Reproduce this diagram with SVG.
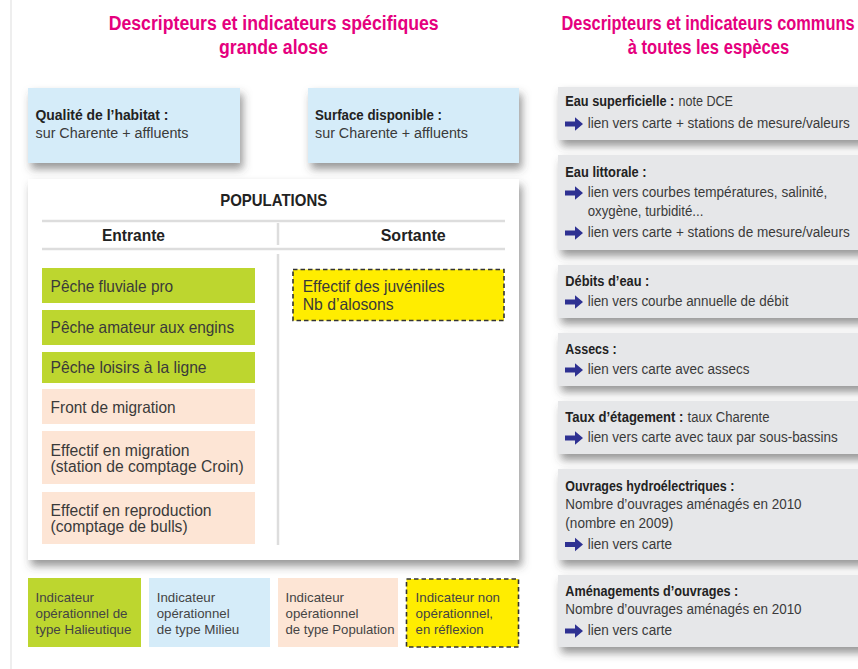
<svg xmlns="http://www.w3.org/2000/svg" xmlns:xlink="http://www.w3.org/1999/xlink" width="858" height="669" viewBox="0 0 858 669">
<defs>
<filter id="sh" x="-10%" y="-20%" width="125%" height="150%">
<feDropShadow dx="3" dy="6" stdDeviation="4" flood-color="#444" flood-opacity="0.55"/>
</filter>
<path id="arr" d="M0,-2.6 H10 V-6.8 L18,0 L10,6.8 V2.6 H0 Z" fill="#2e3192"/>
</defs>
<style>
text{font-family:"Liberation Sans",Arial,sans-serif;fill:#3a3a3a}
.title{font-size:20px;font-weight:bold;fill:#e5007e;text-anchor:middle}
.b{font-weight:bold;fill:#222}
.s14{font-size:14px}
.pop{font-size:16.5px}
.pop2{font-size:16px}
.hd{font-size:16.5px;font-weight:bold;fill:#222;text-anchor:middle}
.leg{font-size:13.5px;fill:#444}
.blue{fill:#d5ecf9}
.green{fill:#bdd62f}
.peach{fill:#fde5d5}
.yellow{fill:#ffed00;stroke:#333;stroke-width:1.6;stroke-dasharray:4.5 3}
.gray{fill:#e6e7e9}
.sep{stroke:#dddddd;stroke-width:2.5;fill:none}
</style>
<rect width="858" height="669" fill="#ffffff"/>
<line x1="11" y1="0" x2="11" y2="669" stroke="#eeeeee" stroke-width="2"/>

<g id="title-left">
<text class="title" x="273.7" y="30" textLength="330" lengthAdjust="spacingAndGlyphs">Descripteurs et indicateurs spécifiques</text>
<text class="title" x="273.5" y="54" textLength="109" lengthAdjust="spacingAndGlyphs">grande alose</text>
</g>
<g id="title-right">
<text class="title" x="708" y="30" textLength="293" lengthAdjust="spacingAndGlyphs">Descripteurs et indicateurs communs</text>
<text class="title" x="708.5" y="54" textLength="161.5" lengthAdjust="spacingAndGlyphs">à toutes les espèces</text>
</g>

<g id="qualite-habitat">
<rect class="blue" x="28" y="88" width="212" height="75" filter="url(#sh)"/>
<text class="s14 b" x="35.5" y="120" textLength="133" lengthAdjust="spacingAndGlyphs">Qualité de l’habitat :</text>
<text class="s14" x="35.5" y="138" textLength="153" lengthAdjust="spacingAndGlyphs">sur Charente + affluents</text>
</g>
<g id="surface-disponible">
<rect class="blue" x="308" y="88" width="211" height="75" filter="url(#sh)"/>
<text class="s14 b" x="315" y="120" textLength="127" lengthAdjust="spacingAndGlyphs">Surface disponible :</text>
<text class="s14" x="315" y="138" textLength="153" lengthAdjust="spacingAndGlyphs">sur Charente + affluents</text>
</g>

<g id="populations">
<rect x="28" y="179" width="491" height="381" fill="#ffffff" filter="url(#sh)"/>
<text class="hd" x="273.7" y="206" textLength="107" lengthAdjust="spacingAndGlyphs">POPULATIONS</text>
<line class="sep" x1="42" y1="221" x2="505" y2="221"/>
<line class="sep" x1="278" y1="223" x2="278" y2="245"/>
<line class="sep" x1="42" y1="249" x2="505" y2="249"/>
<line class="sep" x1="278" y1="254" x2="278" y2="545"/>
<text class="hd" x="133.5" y="241" textLength="63" lengthAdjust="spacingAndGlyphs">Entrante</text>
<text class="hd" x="413.2" y="241" textLength="65" lengthAdjust="spacingAndGlyphs">Sortante</text>
</g>

<g id="peche-fluviale">
<rect class="green" x="42" y="268" width="213" height="35"/>
<text class="pop" x="50.6" y="292" textLength="122.6" lengthAdjust="spacingAndGlyphs">Pêche fluviale pro</text>
</g>
<g id="peche-amateur">
<rect class="green" x="42" y="310" width="213" height="35"/>
<text class="pop" x="50.6" y="333" textLength="183.5" lengthAdjust="spacingAndGlyphs">Pêche amateur aux engins</text>
</g>
<g id="peche-loisirs">
<rect class="green" x="42" y="352" width="213" height="31"/>
<text class="pop" x="50.6" y="373" textLength="156" lengthAdjust="spacingAndGlyphs">Pêche loisirs à la ligne</text>
</g>
<g id="front-migration">
<rect class="peach" x="42" y="389" width="213" height="35"/>
<text class="pop" x="50.6" y="413" textLength="125" lengthAdjust="spacingAndGlyphs">Front de migration</text>
</g>
<g id="effectif-migration">
<rect class="peach" x="42" y="431" width="213" height="53"/>
<text class="pop2" x="50.6" y="455.5" textLength="139" lengthAdjust="spacingAndGlyphs">Effectif en migration</text>
<text class="pop2" x="50.6" y="472" textLength="193" lengthAdjust="spacingAndGlyphs">(station de comptage Croin)</text>
</g>
<g id="effectif-reproduction">
<rect class="peach" x="42" y="492" width="213" height="52"/>
<text class="pop2" x="50.6" y="516" textLength="161" lengthAdjust="spacingAndGlyphs">Effectif en reproduction</text>
<text class="pop2" x="50.6" y="532" textLength="137" lengthAdjust="spacingAndGlyphs">(comptage de bulls)</text>
</g>
<g id="effectif-juveniles">
<rect class="yellow" x="293" y="269.5" width="211" height="51"/>
<text class="pop" x="302.7" y="292" textLength="142" lengthAdjust="spacingAndGlyphs">Effectif des juvéniles</text>
<text class="pop" x="302.7" y="310" textLength="91" lengthAdjust="spacingAndGlyphs">Nb d’alosons</text>
</g>

<g id="legende-halieutique">
<rect class="green" x="28" y="578" width="113" height="69"/>
<text class="leg" x="35.5" y="601.5" textLength="58.5" lengthAdjust="spacingAndGlyphs">Indicateur</text>
<text class="leg" x="35.5" y="617.5" textLength="92" lengthAdjust="spacingAndGlyphs">opérationnel de</text>
<text class="leg" x="35.5" y="633.5" textLength="96" lengthAdjust="spacingAndGlyphs">type Halieutique</text>
</g>
<g id="legende-milieu">
<rect class="blue" x="149" y="578" width="121" height="69"/>
<text class="leg" x="156.7" y="601.5" textLength="58.5" lengthAdjust="spacingAndGlyphs">Indicateur</text>
<text class="leg" x="156.7" y="617.5" textLength="73" lengthAdjust="spacingAndGlyphs">opérationnel</text>
<text class="leg" x="156.7" y="633.5" textLength="82.6" lengthAdjust="spacingAndGlyphs">de type Milieu</text>
</g>
<g id="legende-population">
<rect class="peach" x="278" y="578" width="120" height="69"/>
<text class="leg" x="285.5" y="601.5" textLength="58.5" lengthAdjust="spacingAndGlyphs">Indicateur</text>
<text class="leg" x="285.5" y="617.5" textLength="73" lengthAdjust="spacingAndGlyphs">opérationnel</text>
<text class="leg" x="285.5" y="633.5" textLength="109" lengthAdjust="spacingAndGlyphs">de type Population</text>
</g>
<g id="legende-reflexion">
<rect class="yellow" x="406.5" y="579" width="112" height="68"/>
<text class="leg" x="415.6" y="601.5" textLength="84.4" lengthAdjust="spacingAndGlyphs">Indicateur non</text>
<text class="leg" x="415.6" y="617.5" textLength="77.5" lengthAdjust="spacingAndGlyphs">opérationnel,</text>
<text class="leg" x="415.6" y="633.5" textLength="68" lengthAdjust="spacingAndGlyphs">en réflexion</text>
</g>

<g id="eau-superficielle">
<rect class="gray" x="558" y="87" width="310" height="53" filter="url(#sh)"/>
<text class="s14 b" x="565.3" y="106" textLength="109" lengthAdjust="spacingAndGlyphs">Eau superficielle :</text>
<text class="s14" x="678.5" y="106" textLength="54.5" lengthAdjust="spacingAndGlyphs">note DCE</text>
<use xlink:href="#arr" x="565" y="124"/>
<text class="s14" x="587.7" y="128" textLength="262" lengthAdjust="spacingAndGlyphs">lien vers carte + stations de mesure/valeurs</text>
</g>
<g id="eau-littorale">
<rect class="gray" x="558" y="155" width="310" height="95" filter="url(#sh)"/>
<text class="s14 b" x="565.3" y="177" textLength="81.3" lengthAdjust="spacingAndGlyphs">Eau littorale :</text>
<use xlink:href="#arr" x="565" y="193"/>
<text class="s14" x="587.7" y="197" textLength="239.7" lengthAdjust="spacingAndGlyphs">lien vers courbes températures, salinité,</text>
<text class="s14" x="587.7" y="216" textLength="115.7" lengthAdjust="spacingAndGlyphs">oxygène, turbidité...</text>
<use xlink:href="#arr" x="565" y="233"/>
<text class="s14" x="587.7" y="237" textLength="262" lengthAdjust="spacingAndGlyphs">lien vers carte + stations de mesure/valeurs</text>
</g>
<g id="debits-eau">
<rect class="gray" x="558" y="265" width="310" height="53" filter="url(#sh)"/>
<text class="s14 b" x="565.3" y="286" textLength="84" lengthAdjust="spacingAndGlyphs">Débits d’eau :</text>
<use xlink:href="#arr" x="565" y="302"/>
<text class="s14" x="587.7" y="306" textLength="200.7" lengthAdjust="spacingAndGlyphs">lien vers courbe annuelle de débit</text>
</g>
<g id="assecs">
<rect class="gray" x="558" y="333" width="310" height="53" filter="url(#sh)"/>
<text class="s14 b" x="565.3" y="353.5" textLength="51.3" lengthAdjust="spacingAndGlyphs">Assecs :</text>
<use xlink:href="#arr" x="565" y="370"/>
<text class="s14" x="587.7" y="374" textLength="161.7" lengthAdjust="spacingAndGlyphs">lien vers carte avec assecs</text>
</g>
<g id="taux-etagement">
<rect class="gray" x="558" y="401" width="310" height="53" filter="url(#sh)"/>
<text class="s14 b" x="565.3" y="421.5" textLength="118" lengthAdjust="spacingAndGlyphs">Taux d’étagement :</text>
<text class="s14" x="687.5" y="421.5" textLength="82" lengthAdjust="spacingAndGlyphs">taux Charente</text>
<use xlink:href="#arr" x="565" y="438"/>
<text class="s14" x="587.7" y="442" textLength="250" lengthAdjust="spacingAndGlyphs">lien vers carte avec taux par sous-bassins</text>
</g>
<g id="ouvrages-hydroelectriques">
<rect class="gray" x="558" y="469" width="310" height="91" filter="url(#sh)"/>
<text class="s14 b" x="565.3" y="490.5" textLength="169" lengthAdjust="spacingAndGlyphs">Ouvrages hydroélectriques :</text>
<text class="s14" x="565.3" y="509" textLength="236.3" lengthAdjust="spacingAndGlyphs">Nombre d’ouvrages aménagés en 2010</text>
<text class="s14" x="565.3" y="527.5" textLength="108" lengthAdjust="spacingAndGlyphs">(nombre en 2009)</text>
<use xlink:href="#arr" x="565" y="544.5"/>
<text class="s14" x="587.7" y="548.5" textLength="84.3" lengthAdjust="spacingAndGlyphs">lien vers carte</text>
</g>
<g id="amenagements-ouvrages">
<rect class="gray" x="558" y="575" width="310" height="72" filter="url(#sh)"/>
<text class="s14 b" x="565.3" y="595.5" textLength="173" lengthAdjust="spacingAndGlyphs">Aménagements d’ouvrages :</text>
<text class="s14" x="565.3" y="614" textLength="236.3" lengthAdjust="spacingAndGlyphs">Nombre d’ouvrages aménagés en 2010</text>
<use xlink:href="#arr" x="565" y="631"/>
<text class="s14" x="587.7" y="635" textLength="84.3" lengthAdjust="spacingAndGlyphs">lien vers carte</text>
</g>
</svg>
